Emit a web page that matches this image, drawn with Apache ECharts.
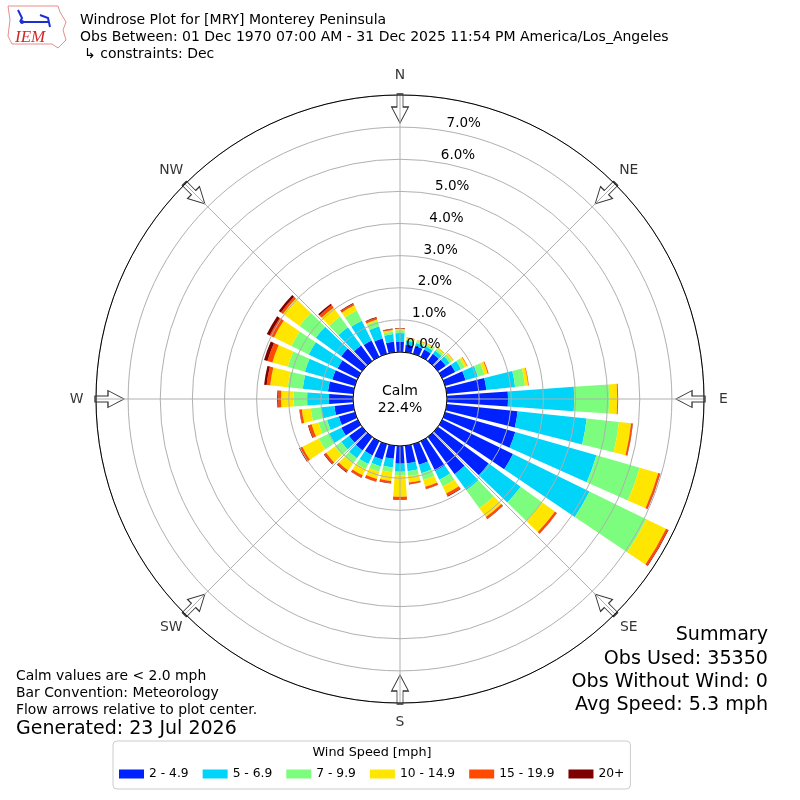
<!DOCTYPE html>
<html><head><meta charset="utf-8">
<script src="https://cdn.jsdelivr.net/npm/echarts@6/dist/echarts.min.js"></script>
<style>html,body{margin:0;padding:0;background:#fff}#c{width:800px;height:800px}</style>
</head><body><div id="c"></div>
<script>
// ---- data (percent of observations, per 10-degree direction bin) ----
const directions = ['0','10','20','30','40','50','60','70','80','90','100','110','120','130','140','150','160','170',
  '180','190','200','210','220','230','240','250','260','270','280','290','300','310','320','330','340','350'];
const speedBins = ['2 - 4.9','5 - 6.9','7 - 9.9','10 - 14.9','15 - 19.9','20+'];
const speed2to5 = [0.33,0.24,0.25,0.25,0.28,0.30,0.45,0.66,1.24,1.90,2.22,2.27,2.45,1.95,1.43,1.03,0.67,0.55,
  0.55,0.41,0.50,0.49,0.52,0.50,0.57,0.52,0.59,0.75,0.79,0.73,0.70,0.80,0.60,0.56,0.50,0.33];
const speed5to7 = [0.26,0.12,0.10,0.11,0.12,0.15,0.20,0.40,0.90,2.06,2.16,2.63,2.65,1.23,0.62,0.30,0.27,0.25,
  0.25,0.27,0.22,0.30,0.30,0.30,0.42,0.38,0.41,0.68,0.79,0.89,1.00,0.98,0.70,0.69,0.39,0.24];
const speed7to10 = [0.09,0.05,0.05,0.06,0.07,0.09,0.13,0.21,0.31,1.09,1.01,1.40,1.97,0.82,0.69,0.24,0.22,0.15,
  0.12,0.15,0.17,0.18,0.20,0.25,0.36,0.28,0.33,0.42,0.47,0.55,0.60,0.62,0.41,0.35,0.17,0.08];
const speed10to15 = [0.04,0.04,0.04,0.04,0.05,0.05,0.08,0.11,0.10,0.25,0.38,0.60,0.68,0.50,0.34,0.24,0.22,0.20,
  0.66,0.27,0.24,0.21,0.26,0.33,0.57,0.22,0.28,0.39,0.55,0.50,0.60,0.64,0.34,0.18,0.05,0.05];
const speed15to20 = [0.02,0.01,0.01,0.01,0.01,0.01,0.02,0.03,0.02,0.03,0.05,0.06,0.07,0.07,0.07,0.09,0.07,0.05,
  0.09,0.07,0.08,0.08,0.07,0.07,0.08,0.10,0.07,0.09,0.11,0.16,0.15,0.08,0.10,0.06,0.06,0.03];
const speed20plus = [0.01,0,0,0,0,0,0,0,0,0,0.01,0.01,0.02,0.01,0.01,0.02,0.01,0.01,
  0.01,0.01,0.01,0.01,0.02,0.02,0.03,0.02,0.01,0.03,0.08,0.11,0.10,0.08,0.05,0.02,0.02,0.01];
const radialTicks = [0,1,2,3,4,5,6,7];
const compassAngles = [0,45,90,135,180,225,270,315];
const compassNames = ['N','NE','E','SE','S','SW','W','NW'];
const calmPercent = '22.4%';
// ---------------------------------------------------------------------

const binData = [speed2to5, speed5to7, speed7to10, speed10to15, speed15to20, speed20plus];
const colors = ['#0022ff','#00d4f8','#7dfd7d','#ffe600','#ff4a00','#7f0000'];
const FONT = '"DejaVu Sans", sans-serif';
const C = [400, 399];

const chart = echarts.init(document.getElementById('c'), null, {renderer: 'canvas'});

const barSeries = speedBins.map((name, i) => ({
  type: 'bar', name, coordinateSystem: 'polar', polarIndex: 0, stack: 'rose',
  data: binData[i], barCategoryGap: '20%', z: 2,
  itemStyle: {color: colors[i], borderWidth: 0}, emphasis: {disabled: true}
}));

const arrowSeries = {
  type: 'scatter', coordinateSystem: 'polar', polarIndex: 1, silent: true, z: 2,
  data: compassAngles.map(a => [7.58, a]),
  symbol: 'path://M5.5,0L11.5,0L11.5,13L17,13L8.5,29L0,13L5.5,13Z',
  symbolSize: [17, 29],
  symbolRotate: (v) => -v[1],
  itemStyle: {color: '#ffffff', borderColor: '#333', borderWidth: 1, opacity: 1}
};

// compass direction names, centred on a ring just outside the plot
const compassLabelSeries = {
  type: 'scatter', coordinateSystem: 'polar', polarIndex: 3, silent: true, z: 6,
  data: compassAngles.map((a, i) => ({value: [1, a], name: compassNames[i]})),
  symbol: 'circle', symbolSize: 1,
  itemStyle: {color: 'rgba(0,0,0,0)'},
  label: {show: true, position: 'inside', formatter: p => p.name,
    fontSize: 13.9, fontFamily: FONT, color: '#000'}
};

const txt = (text, x, y, size, opts = {}) => ({
  type: 'text', x, y, silent: true, z: 10,
  style: Object.assign({text, font: `${size}px ${FONT}`, fill: '#000', verticalAlign: 'middle', textAlign: 'left'}, opts)
});

chart.setOption({
  animation: false,
  backgroundColor: '#fff',
  polar: [
    {center: C, radius: [47, 304]},
    {center: C, radius: [47, 304]},
    {center: [396.5, 399], radius: [55, 312]},
    {center: C, radius: [0, 323.5]}
  ],
  angleAxis: [
    {polarIndex: 0, type: 'category', data: directions, startAngle: 95, clockwise: true, boundaryGap: true,
      axisLine: {show: false}, axisTick: {show: false}, axisLabel: {show: false},
      splitLine: {show: false}, splitArea: {show: false}},
    {polarIndex: 1, type: 'value', min: 0, max: 360, interval: 45, startAngle: 90, clockwise: true, z: 4,
      axisLine: {show: true, lineStyle: {color: '#000', width: 1}},
      axisTick: {show: false}, axisLabel: {show: false},
      splitLine: {show: true, lineStyle: {color: '#b0b0b0', width: 1}},
      splitArea: {show: false}},
    {polarIndex: 2, type: 'value', min: 0, max: 360, startAngle: 79.7, clockwise: true, show: false},
    {polarIndex: 3, type: 'value', min: 0, max: 360, startAngle: 90, clockwise: true, show: false}
  ],
  radiusAxis: [
    {polarIndex: 0, type: 'value', min: 0, max: 8, show: false},
    {polarIndex: 1, type: 'value', min: 0, max: 8, interval: 1, z: 3,
      axisLine: {show: false}, axisTick: {show: false}, axisLabel: {show: false},
      splitLine: {show: true, lineStyle: {color: '#b0b0b0', width: 1}}, splitArea: {show: false}},
    {polarIndex: 2, type: 'value', min: 0, max: 8, interval: 1, z: 5,
      axisLine: {show: false}, axisTick: {show: false}, splitLine: {show: false}, splitArea: {show: false},
      axisLabel: {show: true, margin: 0, align: 'left', verticalAlign: 'middle', fontSize: 13.5, fontFamily: FONT, color: '#000',
        formatter: v => radialTicks.includes(v) ? v.toFixed(1) + '%' : ''}},
    {polarIndex: 3, type: 'value', min: 0, max: 1, show: false}
  ],
  legend: {
    data: speedBins, left: 113, top: 741, orient: 'horizontal',
    padding: [27, 6, 9, 6], itemGap: 14, itemWidth: 25, itemHeight: 9, icon: 'rect',
    textStyle: {fontSize: 12.3, fontFamily: FONT, color: '#000'},
    borderColor: '#cccccc', borderWidth: 1, borderRadius: 4, backgroundColor: '#fff',
    selectedMode: false
  },
  graphic: [
    // IEM logo (approximation)
    {type: 'polygon', silent: true, shape: {points: [[8,6],[58,6],[60,12],[66,22],[63,30],[66,40],[58,48],[52,44],[12,44],[8,36],[10,20]]},
      style: {fill: 'none', stroke: '#e88c8c', lineWidth: 1}},
    {type: 'polyline', silent: true, shape: {points: [[20,22],[48,22]]}, style: {stroke: '#1c2fd0', lineWidth: 2}},
    {type: 'polyline', silent: true, shape: {points: [[18,10],[22,18],[20,22]]}, style: {stroke: '#1c2fd0', lineWidth: 2, fill: 'none'}},
    {type: 'polyline', silent: true, shape: {points: [[40,15],[48,18],[50,27]]}, style: {stroke: '#1c2fd0', lineWidth: 2, fill: 'none'}},
    {type: 'circle', silent: true, shape: {cx: 22, cy: 22, r: 2}, style: {fill: '#1c2fd0'}},
    txt('IEM', 15, 38, 17, {font: 'italic 17px "Liberation Serif", serif', fill: '#d22828'}),
    // titles
    txt('Windrose Plot for [MRY] Monterey Peninsula', 80, 20, 14),
    txt('Obs Between: 01 Dec 1970 07:00 AM - 31 Dec 2025 11:54 PM America/Los_Angeles', 80, 37, 14),
    txt('\u21b3 constraints: Dec', 84, 54, 14),
    // calm
    txt('Calm', C[0], 391, 14, {textAlign: 'center'}),
    txt(calmPercent, C[0], 408, 14, {textAlign: 'center'}),
    // bottom left
    txt('Calm values are < 2.0 mph', 16, 676, 13.9),
    txt('Bar Convention: Meteorology', 16, 693, 13.9),
    txt('Flow arrows relative to plot center.', 16, 710, 13.9),
    txt('Generated: 23 Jul 2026', 16, 729, 19),
    // summary
    txt('Summary', 768, 635, 19.1, {textAlign: 'right'}),
    txt('Obs Used: 35350', 768, 659, 19.1, {textAlign: 'right'}),
    txt('Obs Without Wind: 0', 768, 682, 19.1, {textAlign: 'right'}),
    txt('Avg Speed: 5.3 mph', 768, 705, 19.1, {textAlign: 'right'}),
    // legend title
    txt('Wind Speed [mph]', 372, 753, 12.8, {textAlign: 'center'})
  ],
  series: [...barSeries, arrowSeries, compassLabelSeries]
});
</script>
</body></html>
